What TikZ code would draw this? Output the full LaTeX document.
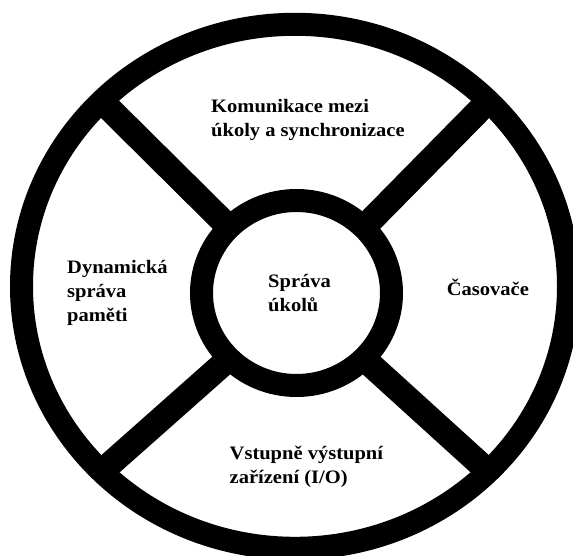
\documentclass[tikz,border=0pt]{standalone}
\usepackage{fontspec}
\setmainfont[FakeStretch=1.08]{Liberation Serif}
\begin{document}
\begin{tikzpicture}[x=1pt,y=-1pt,
  ring/.style={line width=23pt},
  spoke/.style={line width=25pt},
  lbl/.style={font=\bfseries\fontsize{19}{24}\selectfont, align=left, inner sep=0pt, anchor=base west}]
\fill[white] (0,0) rectangle (573,556);
\useasboundingbox (0,0) rectangle (573,556);
\clip (0,0) rectangle (573,556);
\coordinate (oc) at (295,286.3);
\coordinate (ic) at (296.5,293);
% spokes
\coordinate (i1) at (229.3,227.6); \coordinate (o1) at (101.6,101.0);
\coordinate (i2) at (363.7,227.6); \coordinate (o2) at (488.4,101.0);
\coordinate (i3) at (229.3,358.4); \coordinate (o3) at (101.6,471.6);
\coordinate (i4) at (363.7,358.4); \coordinate (o4) at (488.4,471.6);
\draw[spoke] (i1) -- (o1);
\draw[spoke] (i2) -- (o2);
\draw[spoke] (i3) -- (o3);
\draw[spoke] (i4) -- (o4);
% rings
\draw[ring] (oc) ellipse [x radius=273.5, y radius=262];
\draw[ring] (ic) ellipse [x radius=95, y radius=92.5];
% labels (anchor = baseline of last line)
\node[lbl] (kom) at (211,136.5) {Komunikace mezi\\úkoly a synchronizace};
\node[lbl] (dyn) at (67,321) {Dynamická\\správa\\paměti};
\node[lbl] (spr) at (268,311) {Správa\\úkolů};
\node[lbl] (cas) at (446.6,295) {Časovače};
\node[lbl] (vst) at (229.5,483) {Vstupně výstupní\\zařízení (I/O)};
\end{tikzpicture}
\end{document}
